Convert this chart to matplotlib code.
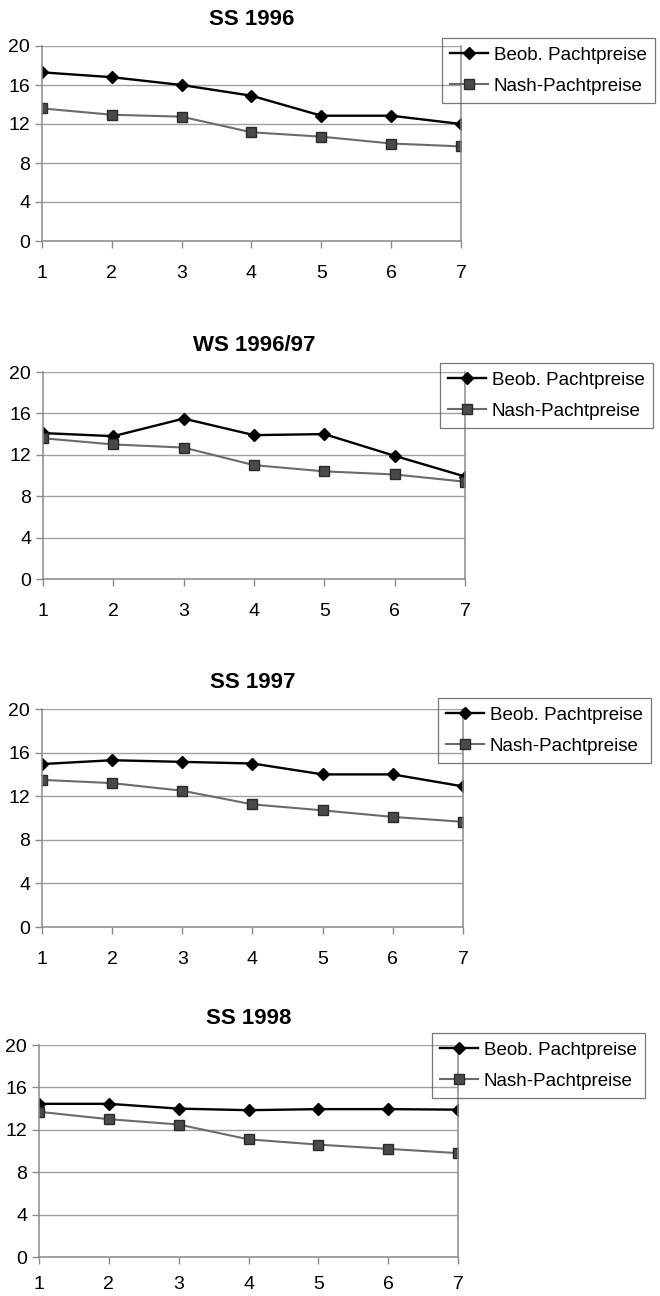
import matplotlib
matplotlib.use("Agg")
import matplotlib.pyplot as plt

plt.rcParams['font.family'] = ['Liberation Sans', 'DejaVu Sans']

# Daten
perioden = [1, 2, 3, 4, 5, 6, 7]
titel = ["SS 1996", "WS 1996/97", "SS 1997", "SS 1998"]
beob = [
    [17.3, 16.8, 16.0, 14.9, 12.85, 12.85, 12.0],
    [14.1, 13.8, 15.5, 13.9, 14.0, 11.9, 9.9],
    [14.95, 15.3, 15.15, 15.0, 14.0, 14.0, 12.9],
    [14.45, 14.45, 14.0, 13.85, 13.95, 13.95, 13.9],
]
nash = [
    [13.6, 12.95, 12.75, 11.15, 10.7, 10.0, 9.7],
    [13.6, 13.0, 12.7, 11.0, 10.4, 10.1, 9.4],
    [13.5, 13.2, 12.5, 11.25, 10.7, 10.1, 9.65],
    [13.7, 13.0, 12.5, 11.1, 10.6, 10.2, 9.8],
]
yticks = [0, 4, 8, 12, 16, 20]

# Layout in Pixel (Bild 660x1296)
W, H = 660, 1296
panels = [  # (left, right, top, bottom)
    (42, 461, 46, 241),
    (43, 465, 372, 579),
    (42, 463, 709, 927),
    (39, 458, 1045, 1257),
]
legend_box = [(442, 38), (440, 363), (438, 698), (432, 1033)]
xpad = [12, 12, 12, 9]

fig = plt.figure(figsize=(W / 100, H / 100), dpi=100)

for i in range(4):
    l, r, t, b = panels[i]
    ax = fig.add_axes([l / W, 1 - b / H, (r - l) / W, (b - t) / H])
    ax.plot(perioden, beob[i], color='black', lw=1.7, marker='D',
            markersize=6.5, markerfacecolor='black', label='Beob. Pachtpreise')
    ax.plot(perioden, nash[i], color='#6a6a6a', lw=1.5, marker='s',
            markersize=7.5, markerfacecolor='#4a4a4a', markeredgecolor='#2a2a2a',
            label='Nash-Pachtpreise')
    ax.set_xlim(1, 7)
    ax.set_ylim(0, 20)
    ax.set_xticks(perioden)
    ax.set_yticks(yticks)
    ax.yaxis.grid(True, color='#a0a0a0', lw=1.0)
    ax.set_axisbelow(True)
    for s in ax.spines.values():
        s.set_color('#8a8a8a')
        s.set_linewidth(1.1)
    ax.spines['top'].set_visible(False)
    ax.tick_params(axis='both', labelsize=14, color='#8a8a8a', length=5,
                   width=1.0, direction='out')
    ax.tick_params(axis='x', pad=xpad[i])
    ax.tick_params(axis='y', pad=3.5)
    ax.set_title(titel[i], fontsize=16, fontweight='bold', pad=15)
    lx, ly = legend_box[i]
    leg = ax.legend(loc='upper left',
                    bbox_to_anchor=(lx / W, 1 - ly / H),
                    bbox_transform=fig.transFigure,
                    fontsize=13.5, frameon=True, fancybox=False,
                    borderpad=0.45, handlelength=2.0, handletextpad=0.3,
                    labelspacing=0.75, borderaxespad=0)
    leg.get_frame().set_edgecolor('#555555')
    leg.get_frame().set_linewidth(0.9)
    leg.get_frame().set_facecolor('none')

fig.savefig('out.png', dpi=100, facecolor='white')
